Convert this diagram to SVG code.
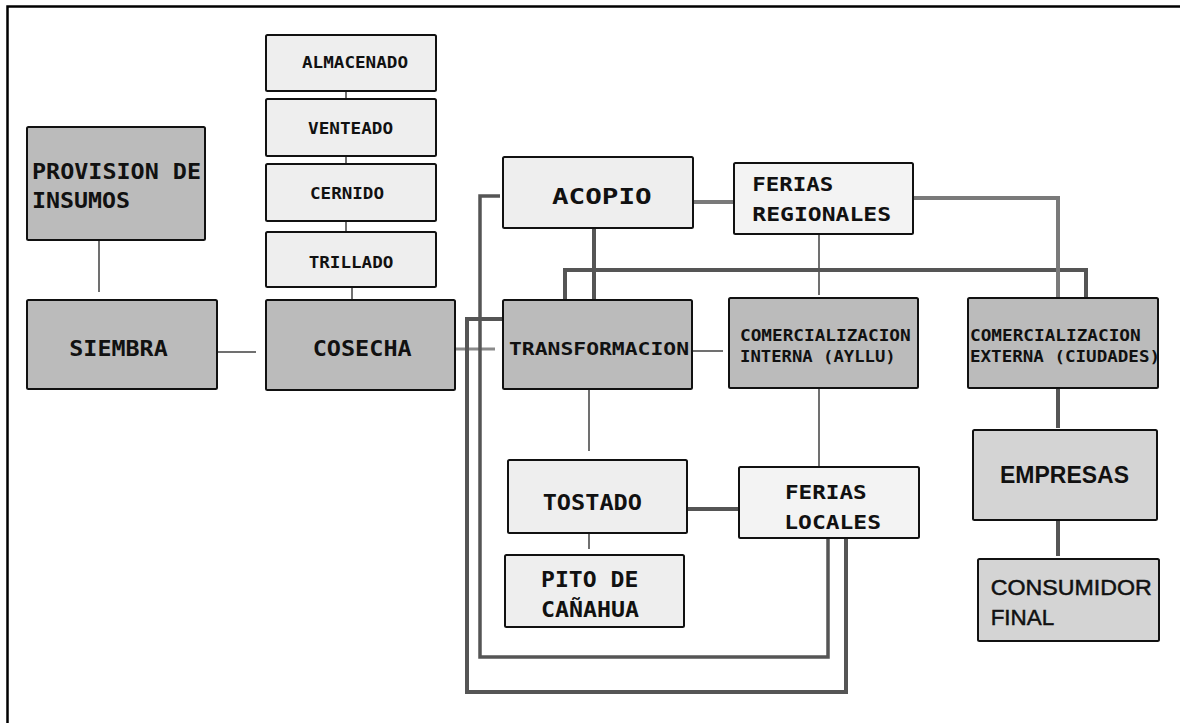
<svg xmlns="http://www.w3.org/2000/svg" width="1180" height="723" viewBox="0 0 1180 723">
<style>
.box{stroke:#111;stroke-width:2}
.dark{fill:#bbbbbb}
.light{fill:#eeeeee}
.pale{fill:#f3f3f3}
.mid{fill:#d4d4d4}
.m{font-family:"DejaVu Sans Mono","Liberation Mono",monospace;font-weight:bold;fill:#111}
.s{font-family:"Liberation Sans",Arial,sans-serif;fill:#111}
.thin{stroke:#707070;stroke-width:2;fill:none}
.thick{stroke:#555;stroke-width:4;fill:none}
.grey{stroke:#7a7a7a;stroke-width:4;fill:none}
.lgrey{stroke:#8a8a8a;stroke-width:3;fill:none}
</style>
<rect width="1180" height="723" fill="#fff"/>
<path d="M7.5 723 V6.5 H1180" fill="none" stroke="#000" stroke-width="2.5"/>
<g id="connectors">
<path class="thin" d="M99 240V292M217 352H256M346 91V99M346 156V164M346 221V232M352 287V300M819 234V295M692 351H723M589 389V451M589 533V549M819 388V467"/>
<path class="thick" d="M594 228V300M565 300V270H1086V298M687 509H739M1058 388V428M1058 520V556"/>
<path class="grey" d="M693 202H733M912 198H1058V298"/>
<path class="lgrey" d="M455 349H495"/>
<path class="thick" d="M500 196H480V657H828V538" style="stroke-width:3.5"/>
<path class="thick" d="M503 319H467V692H846V538"/>
</g>
<g id="almacenado"><rect class="box light" x="266" y="35" width="170" height="56" rx="1.5"/><text class="m" x="302" y="67.7" font-size="16" textLength="106" lengthAdjust="spacingAndGlyphs">ALMACENADO</text></g>
<g id="venteado"><rect class="box light" x="266" y="99" width="170" height="57" rx="1.5"/><text class="m" x="308" y="134.3" font-size="16" textLength="85" lengthAdjust="spacingAndGlyphs">VENTEADO</text></g>
<g id="cernido"><rect class="box light" x="266" y="164" width="170" height="57" rx="1.5"/><text class="m" x="310" y="199" font-size="15" textLength="74" lengthAdjust="spacingAndGlyphs">CERNIDO</text></g>
<g id="trillado"><rect class="box light" x="266" y="232" width="170" height="55" rx="1.5"/><text class="m" x="308.7" y="268.3" font-size="16" textLength="84.6" lengthAdjust="spacingAndGlyphs">TRILLADO</text></g>
<g id="provision"><rect class="box dark" x="27" y="127" width="178" height="113" rx="1.5"/><text class="m" font-size="21.5"><tspan x="32" y="179" textLength="169" lengthAdjust="spacingAndGlyphs">PROVISION DE</tspan><tspan x="32" y="208.3" textLength="98" lengthAdjust="spacingAndGlyphs">INSUMOS</tspan></text></g>
<g id="siembra"><rect class="box dark" x="27" y="300" width="190" height="89" rx="1.5"/><text class="m" x="69.3" y="355.7" font-size="21.5" textLength="98.4" lengthAdjust="spacingAndGlyphs">SIEMBRA</text></g>
<g id="cosecha"><rect class="box dark" x="266" y="300" width="189" height="90" rx="1.5"/><text class="m" x="312.7" y="355.7" font-size="21.5" textLength="99" lengthAdjust="spacingAndGlyphs">COSECHA</text></g>
<g id="acopio"><rect class="box light" x="503" y="157" width="190" height="71" rx="1.5"/><text class="m" x="552" y="204.3" font-size="20.6" textLength="99.7" lengthAdjust="spacingAndGlyphs">ACOPIO</text></g>
<g id="ferias-regionales"><rect class="box pale" x="734" y="163" width="179" height="71" rx="1.5"/><text class="m" font-size="19"><tspan x="752.3" y="190.7" textLength="81" lengthAdjust="spacingAndGlyphs">FERIAS</tspan><tspan x="752.3" y="221" textLength="138.7" lengthAdjust="spacingAndGlyphs">REGIONALES</tspan></text></g>
<g id="transformacion"><rect class="box dark" x="503" y="300" width="189" height="89" rx="1.5"/><text class="m" x="509" y="355" font-size="18.3" textLength="180" lengthAdjust="spacingAndGlyphs">TRANSFORMACION</text></g>
<g id="comercializacion-interna"><rect class="box dark" x="729" y="298" width="189" height="90" rx="1.5"/><text class="m" font-size="16"><tspan x="740" y="340.7" textLength="170.7" lengthAdjust="spacingAndGlyphs">COMERCIALIZACION</tspan><tspan x="740" y="362.3" textLength="155.7" lengthAdjust="spacingAndGlyphs">INTERNA (AYLLU)</tspan></text></g>
<g id="comercializacion-externa"><rect class="box dark" x="968" y="298" width="190" height="90" rx="1.5"/><text class="m" font-size="16"><tspan x="970" y="340.7" textLength="170.7" lengthAdjust="spacingAndGlyphs">COMERCIALIZACION</tspan><tspan x="970" y="362.3" textLength="190" lengthAdjust="spacingAndGlyphs">EXTERNA (CIUDADES)</tspan></text></g>
<g id="tostado"><rect class="box light" x="508" y="460" width="179" height="73" rx="1.5"/><text class="m" x="542.7" y="510" font-size="21.5" textLength="99.3" lengthAdjust="spacingAndGlyphs">TOSTADO</text></g>
<g id="pito"><rect class="box light" x="505" y="555" width="179" height="72" rx="1.5"/><text class="m" font-size="21.5"><tspan x="541" y="587.3" textLength="97.3" lengthAdjust="spacingAndGlyphs">PITO DE</tspan><tspan x="541" y="616.7" textLength="98" lengthAdjust="spacingAndGlyphs">CAÑAHUA</tspan></text></g>
<g id="ferias-locales"><rect class="box pale" x="739" y="467" width="180" height="71" rx="1.5"/><text class="m" font-size="20"><tspan x="785" y="499" textLength="81.7" lengthAdjust="spacingAndGlyphs">FERIAS</tspan><tspan x="784.3" y="529" textLength="96.7" lengthAdjust="spacingAndGlyphs">LOCALES</tspan></text></g>
<g id="empresas"><rect class="box mid" x="973" y="430" width="184" height="90" rx="1.5"/><text class="s" x="1000" y="482.7" font-size="23" font-weight="bold" textLength="129" lengthAdjust="spacingAndGlyphs">EMPRESAS</text></g>
<g id="consumidor"><rect class="box mid" x="978" y="559" width="181" height="82" rx="1.5"/><text class="s" font-size="22.4" stroke="#111" stroke-width="0.5"><tspan x="990.7" y="595" textLength="161" lengthAdjust="spacingAndGlyphs">CONSUMIDOR</tspan><tspan x="990.7" y="625">FINAL</tspan></text></g>
</svg>
